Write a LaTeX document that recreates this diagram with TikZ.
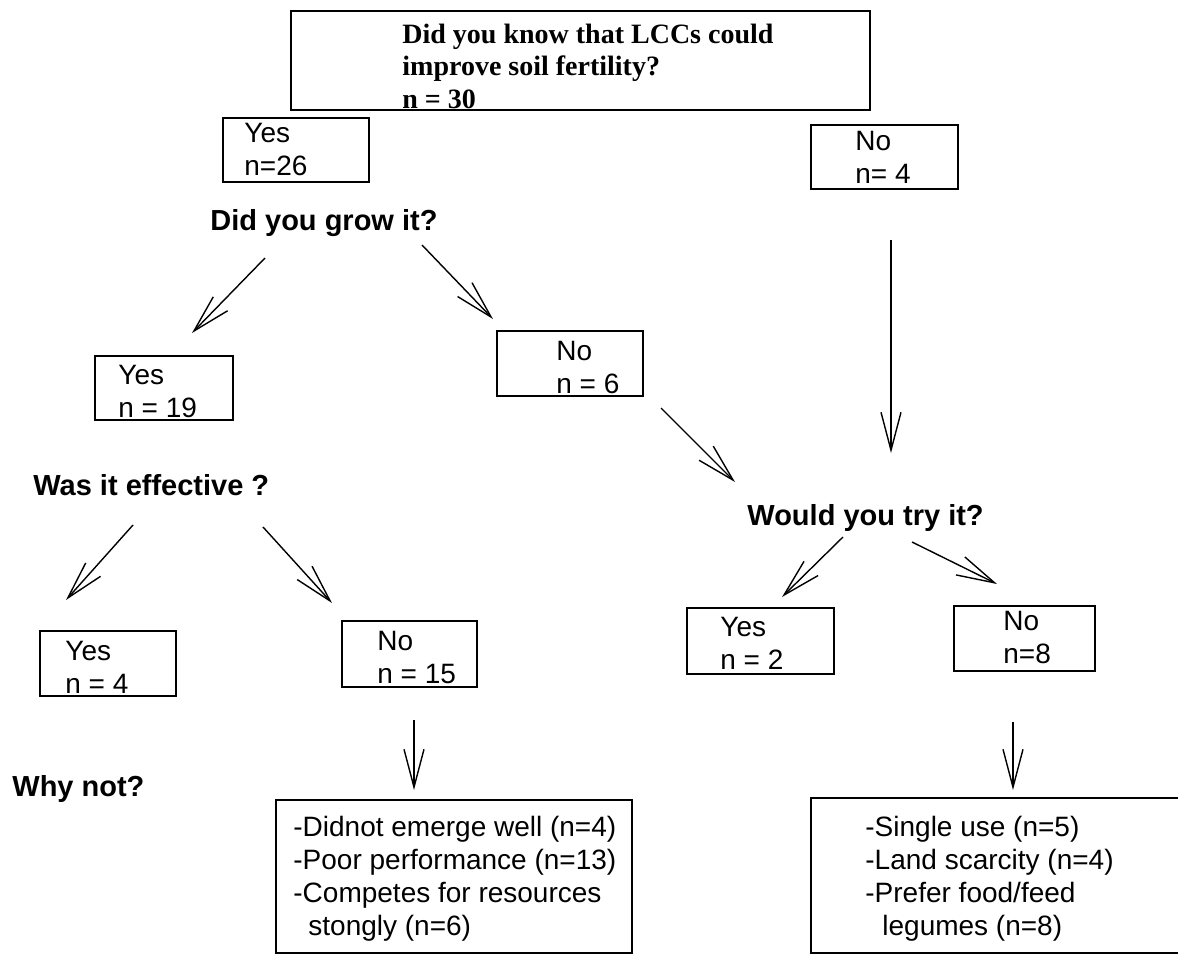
\documentclass[tikz,border=0pt]{standalone}
\usepackage{fontspec}
\setmainfont{Liberation Sans}
\newfontfamily\timesfont{Liberation Serif}
\usetikzlibrary{arrows.meta,positioning,fit}

\tikzset{
  box/.style={draw, line width=0.9pt, inner sep=0pt},
  txt/.style={anchor=base west, align=left, inner sep=0pt,
    font=\fontsize{14}{16.5}\selectfont},
  question/.style={anchor=base west, inner sep=0pt,
    font=\fontsize{14.5}{17}\selectfont\bfseries},
  arr/.style={line width=0.7pt, -{Straight Barb[length=19pt,width=10pt]}},
}

\begin{document}
\begin{tikzpicture}[x=0.5pt, y=-0.5pt]
  \useasboundingbox (0,0) rectangle (1178,955);

  % boxes
  \node[box, fit={(291,11) (870,110)}]    (knowbox) {};
  \node[box, fit={(223,118) (369,182)}]   (yesAbox) {};
  \node[box, fit={(811,125) (958,189)}]   (noAbox) {};
  \node[box, fit={(95,356) (233,420)}]    (yesBbox) {};
  \node[box, fit={(497,331) (643,396)}]   (noBbox) {};
  \node[box, fit={(40,631) (176,696)}]    (yesCbox) {};
  \node[box, fit={(342,621) (477,687)}]   (noCbox) {};
  \node[box, fit={(687,608) (834,674)}]   (yesDbox) {};
  \node[box, fit={(954,606) (1095,671)}]  (noDbox) {};
  \node[box, fit={(276,800) (632,953)}]   (whyCbox) {};
  \node[box, fit={(811,798) (1180,953)}]  (whyDbox) {};

  % texts, placed at the baseline of their last line
  \node[txt, font=\fontsize{14}{16.25}\selectfont\timesfont\bfseries] (know) at (402,108)
    {Did you know that LCCs could\\improve soil fertility?\\n = 30};
  \node[txt] (yesA) at (244,175) {Yes\\n=26};
  \node[txt] (noA)  at (855,183) {No\\n= 4};
  \node[txt] (yesB) at (118,417) {Yes\\n = 19};
  \node[txt] (noB)  at (556,393) {No\\n = 6};
  \node[txt] (yesC) at (65,693)  {Yes\\n = 4};
  \node[txt] (noC)  at (377,683) {No\\n = 15};
  \node[txt] (yesD) at (720,669) {Yes\\n = 2};
  \node[txt] (noD)  at (1003,663) {No\\n=8};
  \node[txt] (whyC) at (293,935) {-Didnot emerge well (n=4)\\-Poor performance (n=13)\\
    -Competes for resources\\\hspace*{7.5pt}stongly (n=6)};
  \node[txt] (whyD) at (865,935) {-Single use (n=5)\\-Land scarcity (n=4)\\
    -Prefer food/feed\\\hspace*{8.5pt}legumes (n=8)};

  \node[question] (grow)   at (210,230) {Did you grow it?};
  \node[question] (effect) at (33,495)  {Was it effective ?};
  \node[question] (try)    at (747,525) {Would you try it?};
  \node[question] (whynot) at (12,796)  {Why not?};

  % arrow ends
  \coordinate (g1) at (265,258);  \coordinate (g2) at (192,333);
  \coordinate (g3) at (422,245);  \coordinate (g4) at (493,319);
  \coordinate (n1) at (661,408);  \coordinate (n2) at (735,482);
  \coordinate (n3) at (891,240);  \coordinate (n4) at (891,453);
  \coordinate (e1) at (133,525);  \coordinate (e2) at (66,600);
  \coordinate (e3) at (263,527);  \coordinate (e4) at (332,603);
  \coordinate (t1) at (843,537);  \coordinate (t2) at (782,597);
  \coordinate (t3) at (912,542);  \coordinate (t4) at (997,584);
  \coordinate (w1) at (414,720);  \coordinate (w2) at (414,790);
  \coordinate (w3) at (1013,722); \coordinate (w4) at (1013,790);

  \draw[arr] (g1) -- (g2);
  \draw[arr] (g3) -- (g4);
  \draw[arr] (n1) -- (n2);
  \draw[arr] (n3) -- (n4);
  \draw[arr] (e1) -- (e2);
  \draw[arr] (e3) -- (e4);
  \draw[arr] (t1) -- (t2);
  \draw[arr] (t3) -- (t4);
  \draw[arr] (w1) -- (w2);
  \draw[arr] (w3) -- (w4);
\end{tikzpicture}
\end{document}
